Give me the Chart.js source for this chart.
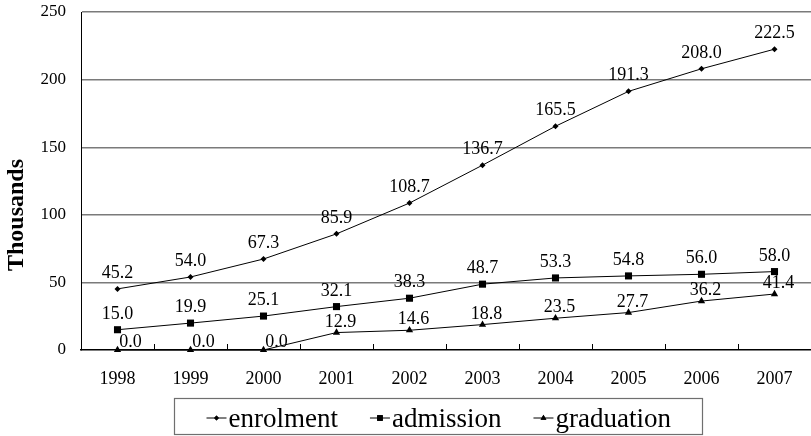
<!DOCTYPE html>
<html>
<head>
<meta charset="utf-8">
<script src="https://cdn.jsdelivr.net/npm/chart.js@4/dist/chart.umd.min.js"></script>
<style>
  html, body { margin: 0; padding: 0; background: #fff; overflow: hidden; }
  #wrap { width: 816px; height: 436px; }
</style>
</head>
<body>
<div id="wrap"><canvas id="c" width="816" height="436"></canvas></div>
<script>
// Enrolment, admission and graduation figures, in thousands
const years = ['1998', '1999', '2000', '2001', '2002', '2003', '2004', '2005', '2006', '2007'];
const enrolment  = [45.2, 54.0, 67.3, 85.9, 108.7, 136.7, 165.5, 191.3, 208.0, 222.5];
const admission  = [15.0, 19.9, 25.1, 32.1, 38.3, 48.7, 53.3, 54.8, 56.0, 58.0];
const graduation = [0.0, 0.0, 0.0, 12.9, 14.6, 18.8, 23.5, 27.7, 36.2, 41.4];
const yTicks = [0, 50, 100, 150, 200, 250];
const axisTitle = 'Thousands';

const SERIF = '"Liberation Serif", "Times New Roman", serif';

// value labels above each point
const valueLabels = {
  id: 'valueLabels',
  afterDatasetsDraw(chart) {
    const ctx = chart.ctx;
    ctx.save();
    ctx.font = '18px ' + SERIF;
    ctx.fillStyle = '#000';
    ctx.textAlign = 'center';
    ctx.textBaseline = 'alphabetic';
    chart.data.datasets.forEach((ds, di) => {
      const meta = chart.getDatasetMeta(di);
      meta.data.forEach((pt, i) => {
        const v = ds.data[i];
        let dx = 0, gap = 11;
        if (ds.label === 'graduation') {
          if (v === 0) { dx = 13; gap = 3; } else { dx = 4; gap = 6; }
        }
        ctx.fillText(v.toFixed(1), pt.x + dx, pt.y - gap);
      });
    });
    ctx.restore();
  }
};

// short inward tick marks between categories, rotated axis title, boxed legend
const decorations = {
  id: 'decorations',
  afterDraw(chart) {
    const ctx = chart.ctx;
    const xs = chart.scales.x;
    const area = chart.chartArea;
    ctx.save();
    ctx.strokeStyle = '#000';
    ctx.lineWidth = 1;
    for (let i = 1; i < years.length; i++) {
      const x = Math.round((xs.getPixelForValue(i - 1) + xs.getPixelForValue(i)) / 2) + 0.5;
      ctx.beginPath();
      ctx.moveTo(x, area.bottom - 6);
      ctx.lineTo(x, area.bottom);
      ctx.stroke();
    }

    // axis title
    ctx.save();
    ctx.translate(17, 215);
    ctx.rotate(-Math.PI / 2);
    ctx.font = 'bold 24px ' + SERIF;
    ctx.textAlign = 'center';
    ctx.textBaseline = 'middle';
    ctx.fillStyle = '#000';
    ctx.fillText(axisTitle, 0, 0);
    ctx.restore();

    // legend
    ctx.font = '27px ' + SERIF;
    const lineLen = 20, textGap = 2, itemGap = 32, pad = 32;
    const items = chart.data.datasets.map((ds, di) => ({
      ds, meta: chart.getDatasetMeta(di), w: ctx.measureText(ds.label).width
    }));
    let total = 0;
    items.forEach((it, i) => { total += lineLen + textGap + it.w + (i ? itemGap : 0); });
    const boxW = total + pad * 2;
    const cx = 438;
    const boxL = Math.round(cx - boxW / 2) + 0.5;
    const boxT = 398.5, boxH = 36;
    ctx.strokeStyle = '#6f6f6f';
    ctx.lineWidth = 1.2;
    ctx.strokeRect(boxL, boxT, Math.round(boxW), boxH);

    let x = boxL + pad;
    const ly = 418;
    items.forEach((it) => {
      ctx.strokeStyle = '#000';
      ctx.lineWidth = 1;
      ctx.beginPath();
      ctx.moveTo(x, ly);
      ctx.lineTo(x + lineLen, ly);
      ctx.stroke();
      ctx.fillStyle = '#000';
      Chart.helpers.drawPoint(ctx, {
        pointStyle: it.ds.pointStyle,
        radius: it.ds.pointRadius * 0.8,
        borderWidth: 0,
        rotation: 0
      }, x + lineLen / 2, ly);
      ctx.fill();
      ctx.fillStyle = '#000';
      ctx.textAlign = 'left';
      ctx.textBaseline = 'alphabetic';
      ctx.fillText(it.ds.label, x + lineLen + textGap, 427);
      x += lineLen + textGap + it.w + itemGap;
    });
    ctx.restore();
  }
};

function series(label, data, style, radius) {
  return {
    label, data,
    borderColor: '#000',
    borderWidth: 1,
    backgroundColor: '#000',
    pointStyle: style,
    pointRadius: radius,
    pointHoverRadius: radius,
    pointBackgroundColor: '#000',
    pointBorderColor: '#000',
    pointBorderWidth: 0,
    tension: 0,
    fill: false,
    clip: false
  };
}

new Chart(document.getElementById('c'), {
  type: 'line',
  data: {
    labels: years,
    datasets: [
      series('enrolment', enrolment, 'rectRot', 3),
      series('admission', admission, 'rect', 5),
      series('graduation', graduation, 'triangle', 4.2)
    ]
  },
  options: {
    responsive: false,
    animation: false,
    events: [],
    layout: { padding: { top: 12, right: 1, bottom: 0, left: 0 } },
    plugins: {
      legend: { display: false },
      tooltip: { enabled: false },
      title: { display: false }
    },
    scales: {
      x: {
        type: 'category',
        offset: true,
        grid: { display: false, drawTicks: false },
        border: { display: true, color: '#000', width: 1.5 },
        ticks: {
          color: '#000',
          font: { family: SERIF, size: 18 },
          padding: 18,
          maxRotation: 0,
          autoSkip: false
        },
        afterFit(scale) {
          scale.height = 86;
          scale.paddingLeft = 0;
          scale.paddingRight = 0;
        }
      },
      y: {
        min: 0,
        max: 250,
        afterBuildTicks(scale) { scale.ticks = yTicks.map(v => ({ value: v })); },
        grid: {
          drawTicks: false,
          color: (c) => (c.tick && c.tick.value === 0) ? 'rgba(0,0,0,0)' : '#7a7a7a',
          lineWidth: 1.4
        },
        border: { display: true, color: '#000', width: 1 },
        ticks: {
          color: '#000',
          font: { family: SERIF, size: 17 },
          padding: 15
        },
        afterFit(scale) {
          scale.width = 81;
          scale.paddingTop = 0;
          scale.paddingBottom = 0;
        }
      }
    }
  },
  plugins: [valueLabels, decorations]
});
</script>
</body>
</html>
